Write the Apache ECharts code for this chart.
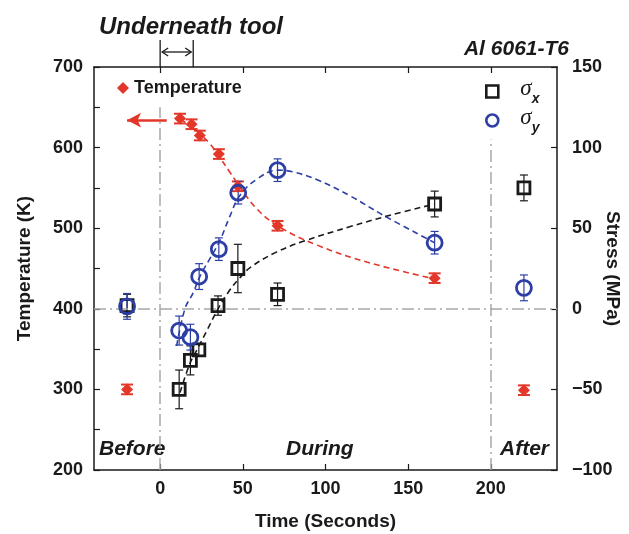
<!DOCTYPE html>
<html>
<head>
<meta charset="utf-8">
<script src="https://cdn.jsdelivr.net/npm/echarts@6/dist/echarts.min.js"></script>
<style>
  html, body { margin: 0; padding: 0; background: #fff; }
  #chart { width: 629px; height: 534px; }
</style>
</head>
<body>
<div id="chart"></div>
<script>
// measured temperature (K) and stresses (MPa), time in seconds
const tTemp = [-20, 12, 19, 24, 35.5, 47, 71, 166, 220];
const tempK = [300, 636, 629, 615, 592, 552, 503, 438, 299];
const tempErr = [6, 6, 6, 6, 6, 6, 6, 6, 6];

const tSx = [-20, 11.5, 18.3, 23.4, 35, 47, 71, 166, 220];
const sigmaX = [2, -50, -32, -25.5, 2, 25, 9, 65, 75];
const sigmaXErr = [7, 12, 9, 4, 6, 15, 7, 8, 8];

const tSy = [-20, 11.5, 18.3, 23.6, 35.5, 47.2, 71, 166, 220];
const sigmaY = [1.5, -13.5, -17.6, 20, 37, 72, 86, 41, 13];
const sigmaYErr = [8, 9, 8, 8, 7, 7, 7, 7, 8];

// dashed trend curves
const tTempFit = [12, 18, 24, 30, 36, 42, 48, 58, 71, 95, 125, 166];
const tempFit = [635, 628, 617, 605, 588, 570, 552, 525, 503, 479, 458, 437];
const tSxFit = [12, 18, 23, 29, 35, 41, 48, 55, 70, 87, 115, 139, 166];
const sxFit = [-52, -34, -24, -12, 0, 10, 19, 26, 35, 42, 51, 58, 65];
const tSyFit = [10, 15, 20, 24, 30, 36, 42, 48, 58, 71, 80, 95, 115, 135, 166];
const syFit = [-23, 0, 10, 20, 31, 42, 57, 70, 80, 86, 85, 80, 70, 58, 41];

// reference lines and annotations
const phaseTimes = [0, 200];
const phaseLineTopK = [650, 610];
const arrowTime = [4, -20];
const arrowK = 634;
const toolTimes = [0, 20];
const xTicks = [0, 50, 100, 150, 200];

const RED = '#e3372a', BLUE = '#2d3fa6', BLACK = '#1a1a1a', GRAY = '#a8a8a8';
const FONT = 'Liberation Sans, Arial, sans-serif';

const zip = (xs, ys, es) => xs.map((x, i) => es ? [x, ys[i], es[i]] : [x, ys[i]]);

function errorBars(color, cap, width) {
  return function (params, api) {
    const x = api.value(0), y = api.value(1), e = api.value(2);
    const hi = api.coord([x, y + e]);
    const lo = api.coord([x, y - e]);
    const style = { stroke: color, lineWidth: width };
    return {
      type: 'group',
      children: [
        { type: 'line', shape: { x1: hi[0], y1: hi[1], x2: lo[0], y2: lo[1] }, style },
        { type: 'line', shape: { x1: hi[0] - cap, y1: hi[1], x2: hi[0] + cap, y2: hi[1] }, style },
        { type: 'line', shape: { x1: lo[0] - cap, y1: lo[1], x2: lo[0] + cap, y2: lo[1] }, style }
      ]
    };
  };
}

const chart = echarts.init(document.getElementById('chart'));

const tickStyle = { show: true, inside: true, length: 6, lineStyle: { color: BLACK, width: 1.2 } };
const labelStyle = { color: BLACK, fontWeight: 'bold', fontSize: 18, fontFamily: FONT };
const nameStyle = { color: BLACK, fontWeight: 'bold', fontSize: 19, fontFamily: FONT };
const lineAxis = { show: true, onZero: false, lineStyle: { color: BLACK, width: 1.5 } };
const dashDot = { color: GRAY, width: 1.5, type: [12, 4, 2, 4] };

const option = {
  animation: false,
  grid: { left: 94, right: 72, top: 67, bottom: 64, containLabel: false, outerBoundsMode: 'none' },
  xAxis: [
    {
      type: 'value', min: -40, max: 240, position: 'bottom',
      axisLine: lineAxis,
      axisTick: Object.assign({ customValues: xTicks }, tickStyle),
      axisLabel: Object.assign({ customValues: xTicks, margin: 10 }, labelStyle),
      splitLine: { show: false },
      name: 'Time (Seconds)', nameLocation: 'middle', nameGap: 42, nameTextStyle: nameStyle
    },
    {
      type: 'value', min: -40, max: 240, position: 'top',
      axisLine: lineAxis,
      axisTick: Object.assign({ customValues: xTicks }, tickStyle),
      axisLabel: { show: false },
      splitLine: { show: false }
    }
  ],
  yAxis: [
    {
      type: 'value', min: 200, max: 700, interval: 100, position: 'left',
      axisLine: lineAxis,
      axisTick: tickStyle,
      minorTick: { show: true, splitNumber: 2, length: 6, lineStyle: { color: BLACK, width: 1.2 } },
      axisLabel: Object.assign({ margin: 11 }, labelStyle),
      splitLine: { show: false },
      name: 'Temperature (K)', nameLocation: 'middle', nameGap: 60, nameMoveOverlap: false,
      nameTextStyle: nameStyle
    },
    {
      type: 'value', min: -100, max: 150, interval: 50, position: 'right',
      axisLine: lineAxis,
      axisTick: tickStyle,
      axisLabel: Object.assign({ margin: 15, formatter: v => String(v).replace('-', '\u2212') }, labelStyle),
      splitLine: { show: false },
      name: 'Stress (MPa)', nameLocation: 'middle', nameGap: 46, nameRotate: -90, nameMoveOverlap: false,
      nameTextStyle: nameStyle
    }
  ],
  legend: [
    {
      data: ['Temperature'], left: 112, top: 74, icon: 'diamond',
      itemWidth: 12, itemHeight: 12, selectedMode: false,
      textStyle: { color: BLACK, fontWeight: 'bold', fontSize: 18, fontFamily: FONT }
    },
    {
      data: ['sx', 'sy'], orient: 'vertical', left: 480, top: 72,
      itemWidth: 12, itemHeight: 12, itemGap: 0, selectedMode: false,
      itemStyle: { borderWidth: 2.6 },
      formatter: n => n === 'sx' ? '{s|\u03c3}{b|x}' : '{s|\u03c3}{b|y}',
      textStyle: {
        rich: {
          s: { fontFamily: 'Liberation Serif', fontStyle: 'italic', fontSize: 23, color: BLACK, verticalAlign: 'bottom', padding: [0, 0, 6, 17] },
          b: { fontFamily: FONT, fontStyle: 'italic', fontWeight: 'bold', fontSize: 14, color: BLACK, verticalAlign: 'bottom' }
        }
      }
    }
  ],
  series: [
    {
      name: 'tempFit', type: 'line', data: zip(tTempFit, tempFit), smooth: 0.4,
      showSymbol: false, silent: true,
      lineStyle: { color: RED, width: 1.6, type: [6, 4] },
      markLine: {
        silent: true, symbol: ['none', 'arrow'], symbolSize: [11, 14],
        lineStyle: { color: RED, width: 2.5, type: 'solid' }, label: { show: false },
        data: [[{ coord: [arrowTime[0], arrowK] }, { coord: [arrowTime[1], arrowK] }]]
      }
    },
    {
      name: 'sxFit', type: 'line', yAxisIndex: 1, data: zip(tSxFit, sxFit), smooth: 0.4,
      showSymbol: false, silent: true,
      lineStyle: { color: BLACK, width: 1.6, type: [6, 4] },
      markLine: {
        silent: true, symbol: 'none', label: { show: false },
        lineStyle: dashDot,
        data: [[{ coord: [-40, 0] }, { coord: [240, 0] }]]
      }
    },
    {
      name: 'syFit', type: 'line', yAxisIndex: 1, data: zip(tSyFit, syFit), smooth: 0.4,
      showSymbol: false, silent: true,
      lineStyle: { color: BLUE, width: 1.6, type: [6, 4] }
    },
    {
      type: 'custom', data: zip(tTemp, tempK, tempErr), encode: { x: 0, y: 1 },
      renderItem: errorBars(RED, 6, 2), silent: true, z: 3
    },
    {
      type: 'custom', yAxisIndex: 1, data: zip(tSx, sigmaX, sigmaXErr), encode: { x: 0, y: 1 },
      renderItem: errorBars(BLACK, 4, 1.2), silent: true, z: 3
    },
    {
      type: 'custom', yAxisIndex: 1, data: zip(tSy, sigmaY, sigmaYErr), encode: { x: 0, y: 1 },
      renderItem: errorBars(BLUE, 4, 1.2), silent: true, z: 3
    },
    {
      name: 'Temperature', type: 'scatter', data: zip(tTemp, tempK), symbol: 'diamond', symbolSize: 12,
      itemStyle: { color: RED, opacity: 1 }, z: 5,
      markLine: {
        silent: true, symbol: 'none', label: { show: false }, z: 1,
        lineStyle: dashDot,
        data: phaseTimes.map((t, i) => [{ coord: [t, 200] }, { coord: [t, phaseLineTopK[i]] }])
      }
    },
    {
      name: 'sx', type: 'scatter', yAxisIndex: 1, data: zip(tSx, sigmaX), symbol: 'rect', symbolSize: 12,
      itemStyle: { color: 'rgba(0,0,0,0)', borderColor: BLACK, borderWidth: 2.8, opacity: 1 }, z: 5
    },
    {
      name: 'sy', type: 'scatter', yAxisIndex: 1, data: zip(tSy, sigmaY), symbol: 'circle', symbolSize: 15,
      itemStyle: { color: 'rgba(0,0,0,0)', borderColor: BLUE, borderWidth: 2.8, opacity: 1 }, z: 5
    }
  ]
};

chart.setOption(option);

// annotations above and inside the frame
const px = t => chart.convertToPixel({ xAxisIndex: 0 }, t);
const x0 = px(toolTimes[0]), x1 = px(toolTimes[1]);
const gridTop = 67;
const thin = { stroke: BLACK, lineWidth: 1.3 };
const bi = size => 'italic bold ' + size + 'px ' + FONT;
chart.setOption({
  graphic: [
    { type: 'text', x: 99, y: 27, style: { text: 'Underneath tool', font: bi(24), fill: BLACK, verticalAlign: 'middle' } },
    { type: 'line', shape: { x1: x0, y1: 40, x2: x0, y2: gridTop }, style: thin },
    { type: 'line', shape: { x1: x1, y1: 40, x2: x1, y2: gridTop }, style: thin },
    { type: 'line', shape: { x1: x0 + 2, y1: 52, x2: x1 - 2, y2: 52 }, style: thin },
    { type: 'polyline', shape: { points: [[x0 + 8, 48], [x0 + 2, 52], [x0 + 8, 56]] }, style: thin },
    { type: 'polyline', shape: { points: [[x1 - 8, 48], [x1 - 2, 52], [x1 - 8, 56]] }, style: thin },
    { type: 'text', x: 569, y: 49, style: { text: 'Al 6061-T6', font: bi(21), fill: BLACK, align: 'right', verticalAlign: 'middle' } },
    { type: 'text', x: 99, y: 449, style: { text: 'Before', font: bi(21), fill: BLACK, verticalAlign: 'middle' } },
    { type: 'text', x: 286, y: 449, style: { text: 'During', font: bi(21), fill: BLACK, verticalAlign: 'middle' } },
    { type: 'text', x: 500, y: 449, style: { text: 'After', font: bi(21), fill: BLACK, verticalAlign: 'middle' } }
  ]
});
</script>
</body>
</html>
